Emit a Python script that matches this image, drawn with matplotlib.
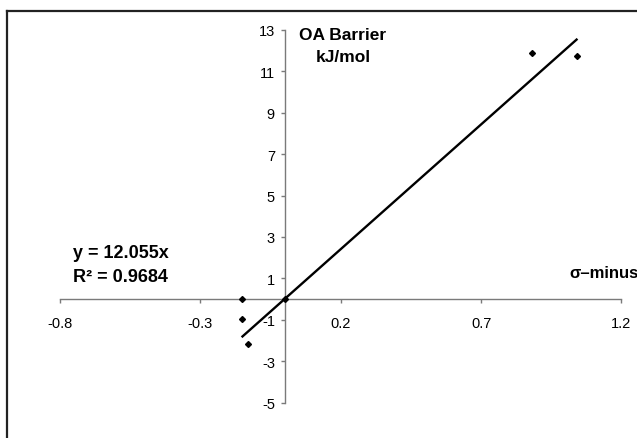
import matplotlib
matplotlib.use("Agg")
import matplotlib.pyplot as plt
import numpy as np
from matplotlib.lines import Line2D

# Data
sigma_minus = [-0.15, -0.15, -0.13, 0.0, 0.88, 1.04]
oa_barrier = [0.0, -0.97, -2.19, 0.0, 11.87, 11.72]
slope = 12.055
r2 = 0.9684
x_ticks = [-0.8, -0.3, 0.2, 0.7, 1.2]
y_ticks = [-5, -3, -1, 1, 3, 5, 7, 9, 11, 13]

plt.rcParams['font.family'] = ['Liberation Sans', 'DejaVu Sans']

W, H = 637, 439
fig = plt.figure(figsize=(W / 100, H / 100), dpi=100)
fig.patch.set_facecolor('white')

ax = fig.add_axes([60 / W, (H - 403.5) / H, (621.5 - 60) / W, (403.5 - 31) / H])
ax.set_xlim(-0.8, 1.2)
ax.set_ylim(-5, 13)
ax.set_facecolor('none')

axis_col = '#7a7a7a'
for s in ['top', 'right']:
    ax.spines[s].set_visible(False)
ax.spines['left'].set_position(('data', 0))
ax.spines['bottom'].set_position(('data', 0))
for s in ['left', 'bottom']:
    ax.spines[s].set_color(axis_col)
    ax.spines[s].set_linewidth(1.0)

ax.set_xticks(x_ticks)
ax.set_xticklabels([f"{v:.1f}" for v in x_ticks])
ax.set_yticks(y_ticks)
ax.set_yticklabels([str(v) for v in y_ticks])
ax.tick_params(axis='x', direction='out', length=3, width=1, color=axis_col,
               pad=9.5, labelsize=10.5, labelcolor='black')
ax.tick_params(axis='y', direction='out', length=3, width=1, color=axis_col,
               pad=4, labelsize=10.5, labelcolor='black')

# data points
ax.plot(sigma_minus, oa_barrier, linestyle='none', marker='D', markersize=3.0,
        color='black', zorder=5, clip_on=False)

# trendline through origin
xs = np.array([min(sigma_minus), max(sigma_minus)])
ax.plot(xs, slope * xs, color='black', linewidth=1.7, zorder=4)

# texts
fig.text(343 / W, 1 - 36 / H, "OA Barrier", ha='center', va='center',
         fontsize=12.5, fontweight='bold')
fig.text(343 / W, 1 - 58 / H, "kJ/mol", ha='center', va='center',
         fontsize=12.5, fontweight='bold')
fig.text(73 / W, 1 - 253 / H, f"y = {slope}x", ha='left', va='center',
         fontsize=13, fontweight='bold')
fig.text(73 / W, 1 - 277 / H, f"R\u00b2 = {r2}", ha='left', va='center',
         fontsize=13, fontweight='bold')
fig.text(569 / W, 1 - 274 / H, "\u03c3\u2013minus", ha='left', va='center',
         fontsize=12, fontweight='bold')

# chart frame (cropped at right and bottom)
fig.add_artist(Line2D([7 / W, 7 / W], [0, 1 - 12 / H], transform=fig.transFigure,
                      color='#222222', linewidth=1.6))
fig.add_artist(Line2D([7 / W, 1], [1 - 12 / H, 1 - 12 / H], transform=fig.transFigure,
                      color='#222222', linewidth=1.6))

fig.savefig("out.png", dpi=100, facecolor='white')
